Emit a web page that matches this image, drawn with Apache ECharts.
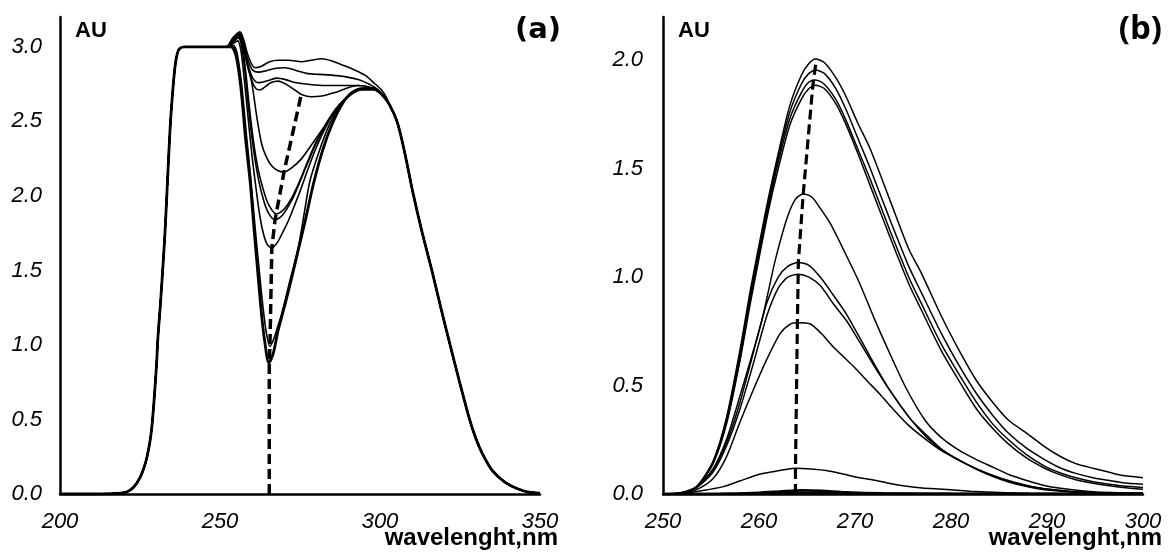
<!DOCTYPE html>
<html>
<head>
<meta charset="utf-8">
<script src="https://cdn.jsdelivr.net/npm/echarts@6/dist/echarts.min.js"></script>
<style>
html,body{margin:0;padding:0;background:#fff;}
#chart{width:1171px;height:557px;}
</style>
</head>
<body>
<div id="chart"></div>
<script>
// ---------- Panel (a) data ----------
const aXTicks = [200, 250, 300, 350];
const aYTicks = [0, 0.5, 1.0, 1.5, 2.0, 2.5, 3.0];
// shared rising edge (all spectra coincide)
const aRise = [[200,0],[210,0],[216,0.002],[219,0.006],[221,0.015],[223,0.045],[225,0.11],[226.3,0.18],[227.2,0.25],[228.1,0.35],[228.7,0.45],[229.3,0.6],[229.7,0.72],[230.2,0.88],[230.6,1.05],[231.3,1.25],[231.9,1.44],[232.8,1.75],[233.7,2.15],[234.4,2.45],[235,2.64],[235.9,2.86],[236.7,2.96],[237.5,2.99],[238.8,3.0],[245,3.0],[250,3.0]];
// shared falling edge
const aTail = [[303,2.61],[305.3,2.5],[307,2.36],[308.5,2.21],[310.3,2.02],[313,1.77],[316.2,1.5],[319,1.25],[321.9,1.0],[325,0.74],[328,0.5],[330,0.37],[332,0.27],[335,0.16],[339,0.08],[343,0.035],[346,0.015],[350,0.005]];
// individual middle parts
const aMid1 = [[252,3.0],[253.5,3.0],[255,2.94],[256.5,2.73],[258,2.38],[259.4,2.1],[260.7,1.76],[262,1.44],[263,1.2],[264,1.02],[265.3,0.88],[266.6,0.94],[268.2,1.1],[270.3,1.27],[272.4,1.45],[274.5,1.64],[276.6,1.83],[279.2,2.08],[282,2.3],[285,2.48],[288,2.61],[291,2.69],[294.5,2.72],[298,2.72],[301,2.67]];
const aMid2 = [[252,3.0],[254,3.01],[255.3,2.96],[256.8,2.74],[258.3,2.4],[259.7,2.1],[261,1.78],[262.3,1.49],[263.4,1.26],[264.5,1.08],[265.6,0.99],[266.8,1.04],[268,1.12],[269.3,1.21],[271.5,1.4],[274.5,1.66],[276.3,1.88],[278.1,2.1],[281,2.3],[284,2.47],[287,2.59],[290,2.67],[294,2.72],[298,2.72],[301,2.67]];
const aMid3 = [[252,3.0],[254,3.02],[255.5,3.04],[256.5,2.98],[257.5,2.8],[258.8,2.52],[260,2.27],[261.2,2.06],[262.2,1.9],[263.3,1.77],[264.6,1.68],[266.2,1.65],[268,1.69],[269.7,1.76],[271.3,1.83],[273,1.92],[275,2.03],[277.5,2.18],[280,2.32],[283,2.46],[286,2.57],[289,2.65],[292,2.7],[295,2.72],[298,2.72],[301,2.67]];
const aMid4 = [[252,3.0],[254,3.03],[255.7,3.06],[256.8,3.0],[257.8,2.83],[259,2.57],[260.3,2.34],[261.6,2.16],[263,2.02],[264.8,1.9],[267.2,1.84],[269.5,1.87],[272.4,1.97],[274.5,2.07],[277,2.2],[280,2.35],[283,2.47],[286,2.57],[289,2.65],[292,2.7],[295,2.72],[298,2.72],[301,2.67]];
const aMid5 = [[252,3.0],[254,3.04],[255.8,3.07],[257,3.0],[258,2.84],[259.2,2.59],[260.5,2.36],[261.8,2.19],[263.3,2.06],[265,1.95],[267.6,1.88],[270,1.91],[272.5,1.99],[274.7,2.09],[277,2.21],[280,2.36],[283,2.48],[286,2.58],[289,2.65],[292,2.7],[295,2.72],[298,2.72],[301,2.67]];
const aMid6 = [[252,3.0],[254,3.04],[255.9,3.08],[257.1,3.02],[258.5,2.89],[260,2.75],[261.5,2.53],[263,2.35],[264.5,2.26],[266.2,2.2],[268,2.17],[270,2.16],[272.5,2.19],[275.5,2.25],[278.5,2.34],[281.8,2.44],[285,2.54],[288,2.62],[291,2.68],[294.3,2.71],[298,2.71],[301,2.67]];
const aMid7 = [[252,3.0],[254,3.05],[256,3.08],[257.3,3.0],[258.5,2.88],[260,2.77],[261.2,2.72],[262.5,2.71],[264,2.73],[266,2.76],[268.2,2.77],[270.5,2.75],[273.4,2.71],[275.5,2.68],[278.5,2.665],[281.8,2.67],[284.5,2.685],[287,2.7],[290,2.725],[293.2,2.74],[296.5,2.73],[299.5,2.7],[301.5,2.66]];
const aMid8 = [[252,3.0],[254,3.05],[256,3.09],[257.3,3.02],[258.5,2.9],[260,2.8],[261.2,2.765],[262.5,2.76],[264.5,2.77],[267.7,2.79],[270.5,2.78],[273.4,2.76],[277,2.75],[282.8,2.74],[288,2.74],[293.2,2.74],[296.5,2.73],[299.5,2.7],[301.5,2.66]];
const aMid9 = [[252,3.0],[254,3.05],[256,3.09],[257.3,3.03],[258.5,2.93],[260,2.85],[262,2.83],[264.5,2.84],[267,2.855],[270.3,2.86],[274,2.84],[277.5,2.82],[281,2.815],[284.9,2.81],[289,2.8],[293.2,2.78],[296.5,2.75],[299.5,2.71],[301.5,2.66]];
const aMid10 = [[252,3.0],[254,3.06],[256.2,3.1],[257.5,3.04],[258.8,2.94],[260.9,2.86],[263,2.87],[265.5,2.9],[268.2,2.91],[271.5,2.91],[275.5,2.9],[278.5,2.91],[281.8,2.92],[285,2.905],[288,2.88],[291.5,2.85],[295.3,2.81],[298,2.76],[300.5,2.71],[302,2.66]];
const aDash = [[265.4,0],[265.4,0.88],[265.6,0.99],[266.2,1.65],[267.2,1.84],[270,2.16],[275.3,2.67]];

// ---------- Panel (b) data ----------
const bXTicks = [250, 260, 270, 280, 290, 300];
const bYTicks = [0, 0.5, 1.0, 1.5, 2.0];
const bA = [[250,0],[252,0.004],[253.5,0.034],[255.2,0.15],[256.6,0.35],[258,0.66],[259.1,0.94],[260.1,1.17],[261,1.37],[262,1.57],[263.2,1.79],[264.4,1.93],[265.2,1.985],[265.9,2.006],[266.8,1.99],[268,1.92],[269.1,1.83],[270.3,1.71],[271.6,1.59],[273.6,1.36],[275.6,1.13],[276.9,1.02],[279,0.82],[281,0.65],[282.7,0.52],[284.4,0.42],[286,0.34],[287.9,0.28],[289.7,0.22],[291.4,0.173],[293,0.14],[294.8,0.119],[296.5,0.1],[297.9,0.085],[300,0.075]];
const bB = [[250,0],[252,0.004],[253.5,0.032],[255.2,0.145],[256.6,0.34],[258,0.64],[259.1,0.92],[260.1,1.15],[261,1.35],[262,1.55],[263.2,1.76],[264.4,1.89],[265.2,1.94],[265.9,1.955],[266.8,1.94],[268,1.87],[269.1,1.77],[270.3,1.64],[271.6,1.5],[273.6,1.27],[275.6,1.05],[276.9,0.93],[279,0.74],[281,0.58],[282.7,0.46],[284.4,0.36],[286,0.28],[287.9,0.21],[289.7,0.16],[291.4,0.12],[293,0.095],[294.8,0.075],[296.5,0.062],[297.9,0.052],[300,0.045]];
const bC = [[250,0],[252,0.004],[253.5,0.03],[255.2,0.14],[256.6,0.33],[258,0.62],[259.1,0.9],[260.1,1.13],[261,1.33],[262,1.53],[263.2,1.73],[264.4,1.85],[265.2,1.9],[265.9,1.91],[266.8,1.89],[268,1.82],[269.1,1.72],[270.3,1.59],[271.6,1.45],[273.6,1.22],[275.6,1.0],[276.9,0.88],[279,0.69],[281,0.54],[282.7,0.42],[284.4,0.32],[286,0.25],[287.9,0.18],[289.7,0.13],[291.4,0.097],[293,0.075],[294.8,0.057],[296.5,0.045],[297.9,0.037],[300,0.03]];
const bD = [[250,0],[252,0.004],[253.5,0.03],[255.2,0.14],[256.6,0.32],[258,0.61],[259.1,0.88],[260.1,1.11],[261,1.31],[262,1.5],[263.2,1.7],[264.4,1.82],[265.2,1.87],[265.9,1.885],[266.8,1.87],[268,1.8],[269.1,1.7],[270.3,1.57],[271.6,1.42],[273.6,1.19],[275.6,0.97],[276.9,0.85],[279,0.66],[281,0.51],[282.7,0.39],[284.4,0.3],[286,0.23],[287.9,0.165],[289.7,0.12],[291.4,0.088],[293,0.066],[294.8,0.05],[296.5,0.038],[297.9,0.03],[300,0.022]];
const bE = [[250,0],[252,0.004],[253.5,0.03],[255.2,0.115],[256.6,0.25],[258,0.45],[259.4,0.66],[260.3,0.8],[261,0.94],[261.7,1.08],[262.9,1.27],[263.8,1.36],[264.6,1.384],[265.5,1.37],[266.5,1.31],[267.4,1.25],[269.1,1.1],[270.5,0.97],[272,0.81],[273.5,0.66],[275.3,0.49],[277.3,0.34],[279,0.26],[280.9,0.2],[282.6,0.16],[284.4,0.123],[286,0.09],[287.9,0.062],[289.6,0.04],[291.4,0.026],[294.8,0.01],[300,0.003]];
const bF = [[250,0],[251.8,0.006],[253.5,0.034],[255.2,0.11],[256.6,0.235],[258,0.42],[259.4,0.65],[260.8,0.88],[262,1.0],[263,1.05],[264.1,1.068],[265.2,1.055],[266.4,1.0],[267.7,0.92],[269.1,0.83],[270.5,0.72],[272,0.6],[273.6,0.48],[275.7,0.35],[277.5,0.26],[279.2,0.2],[281.5,0.14],[284.4,0.085],[286.5,0.055],[288.5,0.034],[291,0.018],[294,0.008],[300,0.003]];
const bG = [[250,0],[251.8,0.005],[253.5,0.03],[255.2,0.1],[256.6,0.22],[258,0.39],[259.4,0.6],[260.8,0.82],[262,0.95],[263,1.0],[264.1,1.014],[265.2,1.0],[266.4,0.96],[267.7,0.88],[269.1,0.8],[270.5,0.7],[272,0.59],[273.6,0.48],[275.7,0.35],[277.5,0.27],[279.2,0.2],[281.5,0.14],[284.4,0.082],[286.5,0.052],[288.5,0.032],[291,0.017],[294,0.007],[300,0.002]];
const bH = [[250,0],[252,0.004],[253.5,0.02],[255.2,0.07],[256.6,0.17],[258,0.33],[259.4,0.48],[260.8,0.62],[262.2,0.74],[263.3,0.785],[264.1,0.79],[265.3,0.785],[266.5,0.74],[267.7,0.68],[269.8,0.59],[271.3,0.52],[272.6,0.46],[274,0.39],[275.5,0.32],[277,0.265],[279,0.2],[280.9,0.155],[282.6,0.115],[284.4,0.08],[286,0.055],[287.9,0.034],[290,0.018],[293,0.008],[300,0.002]];
const bI = [[250,0],[252.1,0.003],[254,0.015],[256.3,0.034],[258,0.06],[259.8,0.088],[261.5,0.103],[263.75,0.119],[265.7,0.114],[267,0.108],[268.4,0.096],[270.5,0.075],[271.9,0.065],[273.5,0.05],[275.4,0.036],[277,0.028],[279.2,0.022],[282,0.013],[284.4,0.008],[288,0.003],[300,0]];
const bJ = [[250,0],[256,0.001],[260,0.006],[262.5,0.013],[264.5,0.017],[266.5,0.015],[269,0.008],[273,0.003],[280,0.001],[300,0]];
const bK = [[250,0],[258,0.001],[262,0.004],[264.5,0.007],[267,0.005],[272,0.002],[300,0]];
const bDash = [[263.8,0],[263.8,0.12],[264.0,0.79],[264.1,1.07],[264.6,1.38],[265.6,1.88],[265.9,1.98]];

const aCurves = [aMid1, aMid2, aMid3, aMid4, aMid5, aMid6, aMid7, aMid8, aMid9, aMid10];
const bCurves = [bA, bB, bC, bD, bE, bF, bG, bH, bI, bJ, bK];

const chart = echarts.init(document.getElementById('chart'), null, {renderer: 'canvas'});

const tickFont = {fontFamily: '"Liberation Sans", Arial, sans-serif', fontStyle: 'italic', fontSize: 22, color: '#000'};
const nameFontFamily = '"Liberation Sans", Arial, sans-serif';

function xAxisDef(grid, min, max, interval) {
  return {
    type: 'value', gridIndex: grid, min: min, max: max, interval: interval,
    axisLine: {show: true, onZero: false, lineStyle: {color: '#000', width: 2.5}},
    axisTick: {show: false}, splitLine: {show: false},
    axisLabel: Object.assign({}, tickFont, {margin: 17, showMinLabel: true, showMaxLabel: true})
  };
}
function yAxisDef(grid, max, margin) {
  return {
    type: 'value', gridIndex: grid, min: 0, max: max, interval: 0.5,
    name: 'AU', nameLocation: 'end', nameGap: 0,
    nameTextStyle: {fontFamily: nameFontFamily, fontWeight: 'bold', color: '#000', fontSize: 22, align: 'left', verticalAlign: 'top', padding: [3, 0, 0, 15]},
    axisLine: {show: true, onZero: false, lineStyle: {color: '#000', width: 2.5}},
    axisTick: {show: false}, splitLine: {show: false},
    axisLabel: Object.assign({}, tickFont, {margin: margin, showMaxLabel: false, formatter: v => v.toFixed(1)})
  };
}

const series = [];
aCurves.forEach((mid, i) => {
  series.push({
    type: 'line', xAxisIndex: 0, yAxisIndex: 0, data: aRise.concat(mid, aTail),
    showSymbol: false, symbol: 'none', smooth: 0.3, silent: true,
    lineStyle: {color: '#000', width: i === 0 ? 2.8 : 1.6}
  });
});
series.push({
  type: 'line', xAxisIndex: 0, yAxisIndex: 0, data: aDash, showSymbol: false, symbol: 'none', silent: true, z: 5,
  lineStyle: {color: '#000', width: 3.5, type: [10, 5]}
});
bCurves.forEach((c, i) => {
  series.push({
    type: 'line', xAxisIndex: 1, yAxisIndex: 1, data: c,
    showSymbol: false, symbol: 'none', smooth: 0.25, silent: true,
    lineStyle: {color: '#000', width: i >= 9 ? 2.5 : 1.5}
  });
});
series.push({
  type: 'line', xAxisIndex: 1, yAxisIndex: 1, data: bDash, showSymbol: false, symbol: 'none', silent: true, z: 5,
  lineStyle: {color: '#000', width: 3.2, type: [10, 5]}
});

chart.setOption({
  backgroundColor: '#fff',
  animation: false,
  title: [
    {text: '(a)', right: 1171 - 566, top: 11, textStyle: {fontFamily: '"DejaVu Sans", sans-serif', fontWeight: 'bold', fontSize: 29, color: '#000'}},
    {text: '(b)', right: 4, top: 8, textStyle: {fontFamily: '"Open Sans", sans-serif', fontWeight: 'bold', fontSize: 33, color: '#000'}}
  ],
  graphic: [
    {type: 'text', right: 1171 - 558, top: 526, silent: true,
     style: {text: 'wavelenght,nm', fill: '#000', font: 'bold 24px "Liberation Sans", Arial, sans-serif'}},
    {type: 'text', right: 1171 - 1162, top: 526, silent: true,
     style: {text: 'wavelenght,nm', fill: '#000', font: 'bold 24px "Liberation Sans", Arial, sans-serif'}}
  ],
  grid: [
    {left: 60, top: 17, width: 480, height: 477, outerBoundsMode: 'none', containLabel: false},
    {left: 663, top: 17, width: 480, height: 477, outerBoundsMode: 'none', containLabel: false}
  ],
  xAxis: [xAxisDef(0, 200, 350, 50), xAxisDef(1, 250, 300, 10)],
  yAxis: [yAxisDef(0, 3.2, 18), yAxisDef(1, 2.2, 20)],
  series: series
});
</script>
</body>
</html>
